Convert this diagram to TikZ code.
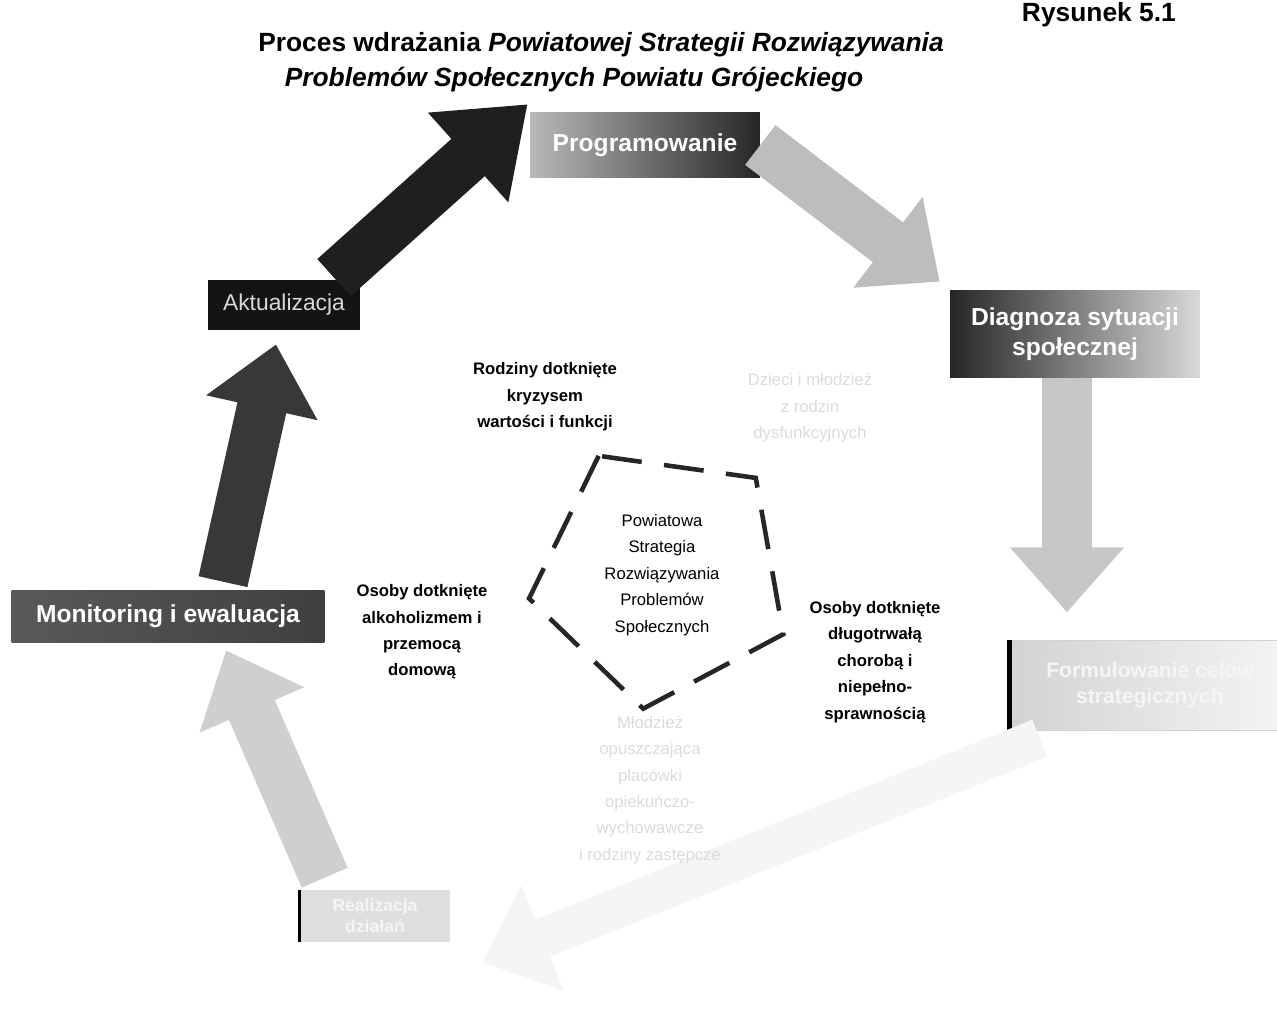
\documentclass[tikz,border=0pt]{standalone}
\usepackage{fontspec}
\setmainfont{Liberation Sans}
\usetikzlibrary{shapes.geometric,arrows.meta,positioning,calc}

\begin{document}
\begin{tikzpicture}[
    x=0.02cm, y=-0.02cm,
    heading/.style={align=center, font=\bfseries\fontsize{15}{18}\selectfont},
    stage/.style={rectangle, align=center, text=white, inner sep=2pt, font=\bfseries\fontsize{14}{17}\selectfont},
    group/.style={align=center, font=\bfseries\fontsize{9.5}{15}\selectfont},
    faint/.style={align=center, text=black!14, font=\fontsize{9.5}{15}\selectfont},
    flow/.style={line width=1cm, -{Triangle[length=1.3cm, width=2.2cm]}}
]
    \useasboundingbox (0,0) rectangle (1277,1010);

    % title
    \node [heading, anchor=base east] (fig) at (1182,22) {Rysunek 5.1};
    \node [heading] (t1) at (601,45) {Proces wdrażania \textit{Powiatowej Strategii Rozwiązywania}};
    \node [heading] (t2) at (574,80) {\textit{Problemów Społecznych Powiatu Grójeckiego}};

    % stages of the cycle
    \node [stage, left color=gray!55, right color=black!85, minimum width=4.6cm, minimum height=1.3cm] (prog) at (645,145) {Programowanie};
    \node [stage, left color=black!85, right color=gray!30, minimum width=5.0cm, minimum height=1.76cm] (diag) at (1075,334) {Diagnoza sytuacji\\społecznej};
    \node [stage, left color=gray!35, right color=gray!8, draw=gray!35, text=gray!8, minimum width=5.6cm, minimum height=1.8cm, font=\bfseries\fontsize{12}{15}\selectfont] (form) at (1150,685) {Formułowanie celów\\strategicznych};
    \draw [line width=2.5pt] (form.north west) -- (form.south west);
    \node [stage, fill=gray!25, text=gray!8, minimum width=3.0cm, minimum height=1.04cm, font=\bfseries\fontsize{10}{12}\selectfont] (real) at (375,916) {Realizacja\\działań};
    \draw [line width=2pt] (real.north west) -- (real.south west);
    \node [stage, left color=black!65, right color=black!75, minimum width=6.26cm, minimum height=1.04cm] (mon) at (168,616) {Monitoring i ewaluacja};
    \node [stage, fill=black!92, text=black!15, minimum width=3.04cm, minimum height=1.0cm, font=\fontsize{13}{16}\selectfont] (akt) at (284,305) {Aktualizacja};

    % cycle arrows
    \draw [flow, draw=black!88, -{Triangle[length=1.6cm, width=2.3cm]}] ($(akt.north)+(50,-2)$) -- ($(prog.north west)+(-2,-8)$);
    \draw [flow, draw=gray!52] (prog.east) -- ($(diag.north west)+(-10,-8)$);
    \draw [flow, draw=gray!45] ($(diag.south)+(-8,0)$) -- ($(diag.south)+(-8,234)$);
    \draw [flow, draw=black!4, line width=0.8cm] ($(form.south west)+(30,8)$) -- ($(real.south east)+(32,20)$);
    \draw [flow, draw=gray!38] ($(real.north west)+(25,-12)$) -- ($(mon.south)+(58,8)$);
    \draw [flow, draw=black!78] ($(mon.north)+(55,-8)$) -- ($(akt.south)+(-8,14)$);

    % centre of the strategy
    \node [regular polygon, regular polygon sides=5, shape border rotate=28, minimum size=5.4cm,
           draw=black!85, line width=2.6pt, dash pattern=on 0.8cm off 0.45cm, align=center,
           font=\fontsize{9.5}{15}\selectfont] (core) at (662,575)
          {Powiatowa\\Strategia\\Rozwiązywania\\Problemów\\Społecznych};

    \node [group] (fam) at (545,397) {Rodziny dotknięte\\kryzysem\\wartości i funkcji};
    \node [faint] (kid) at (810,408) {Dzieci i młodzież\\z rodzin\\dysfunkcyjnych};
    \node [group] (alc) at (422,632) {Osoby dotknięte\\alkoholizmem i\\przemocą\\domową};
    \node [group] (dis) at (875,662) {Osoby dotknięte\\długotrwałą\\chorobą i\\niepełno-\\sprawnością};
    \node [faint] (yth) at (650,790) {Młodzież\\opuszczająca\\placówki\\opiekuńczo-\\wychowawcze\\i rodziny zastępcze};
\end{tikzpicture}
\end{document}
